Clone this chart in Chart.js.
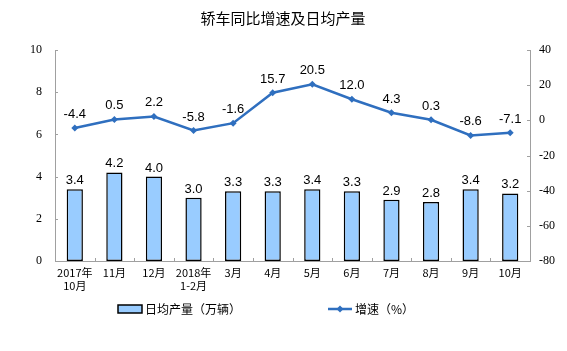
<!DOCTYPE html>
<html>
<head>
<meta charset="utf-8">
<script src="https://cdn.jsdelivr.net/npm/chart.js@4"></script>
<style>
html,body{margin:0;padding:0;background:#fff;}
#wrap{width:567px;height:351px;}
</style>
</head>
<body>
<div id="wrap"><canvas id="c" width="567" height="351"></canvas></div>
<script>
/* DATA */
const months=[["2017年","10月"],"11月","12月",["2018年","1-2月"],"3月","4月","5月","6月","7月","8月","9月","10月"];
const dailyOutput=[3.4,4.2,4.0,3.0,3.3,3.3,3.4,3.3,2.9,2.8,3.4,3.2];
const growth=[-4.4,0.5,2.2,-5.8,-1.6,15.7,20.5,12.0,4.3,0.3,-8.6,-7.1];
const leftTicks=[0,2,4,6,8,10];
const rightTicks=[-80,-60,-40,-20,0,20,40];

const CJK="'Noto Sans CJK SC', sans-serif";
const SERIF="'Liberation Serif', serif";
const SANS="'Liberation Sans', Arial, sans-serif";
const lineBlue="#2f6fbf";
const axisGray="#a0a0a0";

/* PLUGIN: title, labels, ticks, legend */
const extras={
id:"extras",
afterDatasetsDraw(chart){
const ctx=chart.ctx;
const a=chart.chartArea;
ctx.save();

// title
ctx.fillStyle="#000";
ctx.font="15px "+CJK;
ctx.textAlign="center";
ctx.textBaseline="middle";
ctx.fillText("轿车同比增速及日均产量",283,18);

// inward tick marks
ctx.strokeStyle=axisGray;
ctx.lineWidth=1;
const yl=chart.scales.y,yr=chart.scales.y2,x=chart.scales.x;
ctx.beginPath();
yl.ticks.forEach((t,i)=>{let p=Math.round(yl.getPixelForTick(i))+0.5;ctx.moveTo(a.left,p);ctx.lineTo(a.left+3,p);});
yr.ticks.forEach((t,i)=>{let p=Math.round(yr.getPixelForTick(i))+0.5;ctx.moveTo(a.right,p);ctx.lineTo(a.right-3,p);});
const step=(a.right-a.left)/months.length;
for(let i=1;i<months.length;i++){let p=Math.round(a.left+step*i)+0.5;ctx.moveTo(p,a.bottom);ctx.lineTo(p,a.bottom-3);}
ctx.stroke();

// data labels
ctx.font="13px "+SANS;
ctx.fillStyle="#000";
ctx.textBaseline="alphabetic";
chart.getDatasetMeta(0).data.forEach((el,i)=>{
ctx.fillText(dailyOutput[i].toFixed(1),el.x,el.y-5);
});
chart.getDatasetMeta(1).data.forEach((el,i)=>{
ctx.fillText(growth[i].toFixed(1),el.x,el.y-10);
});

// legend
const ly=309;
ctx.fillStyle="#99ccff";
ctx.fillRect(118,305,24,8);
ctx.strokeStyle="#000";
ctx.lineWidth=1.5;
ctx.strokeRect(118,305,24,8);
ctx.fillStyle="#000";
ctx.font="12px "+CJK;
ctx.textAlign="left";
ctx.textBaseline="middle";
ctx.fillText("日均产量（万辆）",145,ly);

ctx.strokeStyle=lineBlue;
ctx.lineWidth=2.5;
ctx.beginPath();ctx.moveTo(328,ly);ctx.lineTo(352,ly);ctx.stroke();
ctx.fillStyle=lineBlue;
ctx.beginPath();ctx.moveTo(340,ly-3.5);ctx.lineTo(343.5,ly);ctx.lineTo(340,ly+3.5);ctx.lineTo(336.5,ly);ctx.closePath();ctx.fill();
ctx.fillStyle="#000";
ctx.fillText("增速（%）",355,ly);

ctx.restore();
}
};

/* CHART */
new Chart(document.getElementById("c"),{
type:"bar",
data:{
labels:months,
datasets:[{
type:"bar",
label:"日均产量（万辆）",
data:dailyOutput,
yAxisID:"y",
backgroundColor:"#99ccff",
borderColor:"#000",
borderWidth:1.5,
borderSkipped:false,
categoryPercentage:1,
barPercentage:0.41,
order:2
},{
type:"line",
label:"增速（%）",
data:growth,
yAxisID:"y2",
borderColor:lineBlue,
backgroundColor:lineBlue,
borderWidth:2.5,
pointStyle:"rectRot",
pointRadius:3.5,
pointBorderWidth:0,
tension:0,
order:1
}]
},
options:{
responsive:false,
animation:false,
events:[],
layout:{padding:{top:50,left:0,right:0,bottom:0}},
plugins:{legend:{display:false},title:{display:false},tooltip:{enabled:false}},
scales:{
x:{
grid:{display:false,drawTicks:false},
border:{color:axisGray},
ticks:{font:{family:CJK,size:11},color:"#000",padding:5,maxRotation:0,autoSkip:false},
afterFit(s){s.height=90;}
},
y:{
position:"left",
min:0,max:10,
afterBuildTicks(s){s.ticks=leftTicks.map(v=>({value:v}));},
grid:{display:false,drawTicks:false},
border:{color:axisGray},
ticks:{font:{family:SERIF,size:12},color:"#000",padding:13},
afterFit(s){s.width=55;}
},
y2:{
position:"right",
min:-80,max:40,
afterBuildTicks(s){s.ticks=rightTicks.map(v=>({value:v}));},
grid:{display:false,drawTicks:false},
border:{color:axisGray},
ticks:{font:{family:SERIF,size:12},color:"#000",padding:9},
afterFit(s){s.width=37;}
}
}
},
plugins:[extras]
});
</script>
</body>
</html>
